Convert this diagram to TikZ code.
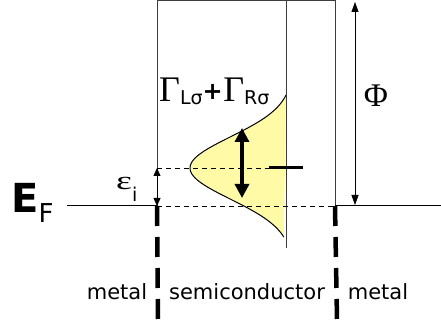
\documentclass[tikz,border=0pt]{standalone}
\usepackage{fontspec}
\setmainfont{Liberation Serif}
\setsansfont{DejaVu Sans}
\usetikzlibrary{arrows.meta}
\definecolor{lyellow}{RGB}{255,250,165}
\definecolor{lgray}{RGB}{60,60,60}
\tikzset{
  thin line/.style={draw=lgray, line width=1pt},
  thick dash/.style={line width=4.5pt, dash pattern=on 20pt off 11pt},
  lbl/.style={font=\sffamily\fontsize{21}{21}\selectfont, inner sep=0pt},
  txt/.style={inner sep=0pt},
}
\newcommand{\subsf}[2]{{\sffamily\fontsize{#1}{#1}\selectfont #2}}
\begin{document}
\begin{tikzpicture}[x=1pt,y=-1pt]
\useasboundingbox (0,0) rectangle (441,320);
% coordinates
\coordinate (TL) at (157,1);
\coordinate (TR) at (335,1);
\coordinate (TS) at (286,1);
\coordinate (L) at (157,206);
\coordinate (R) at (335,206);
\coordinate (SB) at (286,248);
\coordinate (EFs) at (67,206);
\coordinate (EFe) at (441,206);
\coordinate (Li) at (157,168);
\coordinate (Lb) at (158,320);
\coordinate (Rb) at (337,320);
\coordinate (Pt) at (355,2);
\coordinate (Pb) at (355,205);
\coordinate (At) at (242,128);
\coordinate (Ab) at (242,198);
\coordinate (Ti) at (269,168);
\coordinate (Te) at (303,168);
% yellow peak
\fill[lyellow] plot[domain=-73:69, samples=80, variable=\t] ({286-96*(exp(-(\t/44)^2)-0.064)/0.936}, {168+\t}) -- cycle;
\draw[line width=1pt] plot[domain=-73:69, samples=80, variable=\t] ({286-96*(exp(-(\t/44)^2)-0.064)/0.936}, {168+\t});
% box lines
\draw[thin line] (L) -- (TL) -- (TR) -- (R);
\draw[thin line] (TS) -- (SB);
% Fermi level
\draw[line width=1pt] (EFs) -- (L);
\draw[line width=1pt] (R) -- (EFe);
\draw[line width=0.8pt, dash pattern=on 5pt off 4pt] (L) -- (R);
\draw[line width=0.8pt, dash pattern=on 5pt off 4pt] (Li) -- (Ti);
\draw[line width=3pt] (Ti) -- (Te);
% thick dashed interfaces
\draw[thick dash] (L) -- (Lb);
\draw[thick dash] (R) -- (Rb);
% arrows
\draw[line width=0.8pt, {Triangle[length=10pt,width=7pt]}-{Triangle[length=10pt,width=7pt]}] (Pt) -- (Pb);
\draw[line width=0.8pt, {Triangle[length=8pt,width=7pt]}-{Triangle[length=8pt,width=7pt]}] (Li) -- (L);
\draw[line width=3.3pt, {Triangle[length=14pt,width=14pt]}-{Triangle[length=14pt,width=14pt]}] (At) -- (Ab);
% labels
\node[txt, anchor=base] (phi) at (376,107) {\fontsize{33}{33}\selectfont Φ};
\node[txt, anchor=base west] (gam) at (159,102) {\fontsize{36}{36}\selectfont Γ\raisebox{-3pt}{\subsf{19}{Lσ}}\raisebox{2pt}{\bfseries\sffamily\fontsize{24}{24}\selectfont +}\hspace{0.5pt}Γ\raisebox{-3pt}{\subsf{19}{Rσ}}};
\node[txt, anchor=base west] (eps) at (116,190) {\fontsize{26}{26}\selectfont \scalebox{1.45}[1]{ε}\raisebox{-12pt}{\subsf{19}{i}}};
\node[txt, anchor=base west] (EF) at (11,212) {\sffamily\bfseries\fontsize{40}{40}\selectfont E\raisebox{-10pt}{\mdseries\fontsize{26}{26}\selectfont F}};
\node[lbl, anchor=base] (m1) at (117,299) {metal};
\node[lbl, anchor=base] (sc) at (247,299) {semiconductor};
\node[lbl, anchor=base] (m2) at (378,299) {metal};
\end{tikzpicture}
\end{document}
